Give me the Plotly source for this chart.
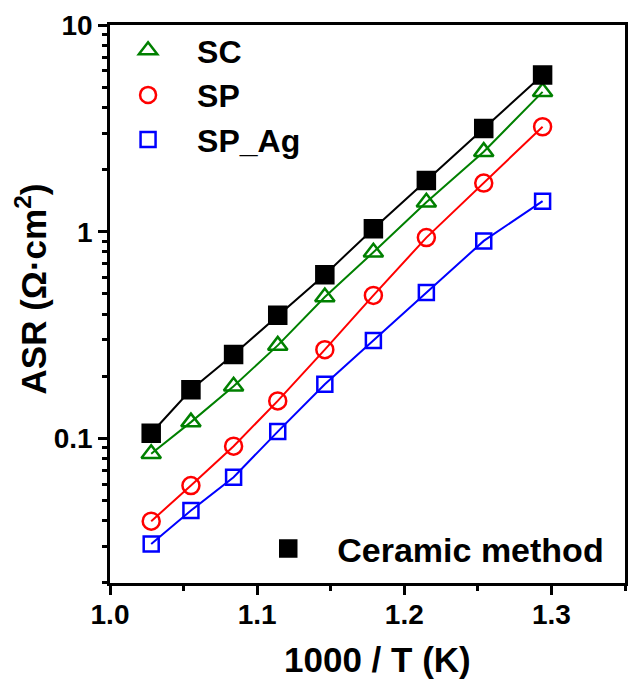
import plotly.graph_objects as go

# 1000/T (K) for the nine measurement temperatures
inv_t = [1.028, 1.055, 1.084, 1.114, 1.146, 1.179, 1.215, 1.254, 1.294]

# Area-specific resistance (Ohm*cm^2)
asr_ceramic = [0.106, 0.172, 0.255, 0.394, 0.62, 1.035, 1.77, 3.16, 5.73]
asr_sc = [0.0843, 0.12, 0.179, 0.282, 0.483, 0.796, 1.39, 2.44, 4.75]
asr_sp = [0.0398, 0.0592, 0.0918, 0.152, 0.269, 0.492, 0.937, 1.72, 3.22]
asr_sp_ag = [0.0309, 0.0448, 0.065, 0.108, 0.183, 0.298, 0.509, 0.903, 1.406]

FONT = "Liberation Sans"

fig = go.Figure()

series = [
    ("SC", asr_sc, "#008000", "triangle-up-open", 17, "legend"),
    ("SP", asr_sp, "#ff0000", "circle-open", 17, "legend"),
    ("SP_Ag", asr_sp_ag, "#0000ff", "square-open", 15, "legend"),
    ("Ceramic method", asr_ceramic, "#000000", "square", 17, "legend2"),
]

# connecting lines (not listed in the legends)
for name, vals, color, symbol, size, leg in series:
    fig.add_trace(go.Scatter(
        x=inv_t, y=vals, mode="lines", showlegend=False,
        line=dict(color=color, width=2), hoverinfo="skip",
    ))

# markers, which also provide the legend symbols
for name, vals, color, symbol, size, leg in series:
    fig.add_trace(go.Scatter(
        x=inv_t, y=vals, name=name, mode="markers",
        marker=dict(symbol=symbol, size=size, color=color,
                    line=dict(color=color, width=2.5)),
        legend=leg,
    ))

W, H = 630, 681
ML, MR, MT, MB = 110, 2, 25, 98
pw, ph = W - ML - MR, H - MT - MB

tickfont = dict(family=FONT, size=28, color="black", weight="bold")
titlefont = dict(family=FONT, size=35, color="black", weight="bold")

fig.update_layout(
    width=W, height=H,
    margin=dict(l=ML, r=MR, t=MT, b=MB),
    paper_bgcolor="white", plot_bgcolor="white",
    xaxis=dict(
        range=[1.0, 1.35], dtick=0.1, tick0=1.0, tickformat=".1f",
        ticks="outside", ticklen=9, tickwidth=2.5, tickcolor="black",
        minor=dict(ticks="outside", dtick=0.05, ticklen=5, tickwidth=2.5, tickcolor="black"),
        showline=True, linewidth=2.5, linecolor="black", mirror=True,
        showgrid=False, zeroline=False, tickfont=tickfont, ticklabelstandoff=-4,
    ),
    yaxis=dict(
        type="log", range=[-1.699, 1.0],
        tickvals=[0.1, 1, 10], ticktext=["0.1", "1", "10"],
        ticks="outside", ticklen=9, tickwidth=2.5, tickcolor="black",
        minor=dict(ticks="outside", dtick="D1", ticklen=5, tickwidth=2.5, tickcolor="black"),
        showline=True, linewidth=2.5, linecolor="black", mirror=True,
        showgrid=False, zeroline=False, tickfont=tickfont,
    ),
    legend=dict(
        x=(99 - ML) / pw, y=1 - (23 - MT) / ph, xanchor="left", yanchor="top",
        bgcolor="rgba(0,0,0,0)", itemwidth=88, tracegroupgap=0,
        font=dict(family=FONT, size=32, color="black", weight="bold"),
    ),
    legend2=dict(
        x=(240 - ML) / pw, y=1 - (520 - MT) / ph, xanchor="left", yanchor="top",
        bgcolor="rgba(0,0,0,0)", itemwidth=88,
        font=dict(family=FONT, size=34, color="black", weight="bold"),
    ),
    showlegend=True,
)

# axis titles
fig.add_annotation(
    text="1000 / T (K)", xref="paper", yref="paper",
    x=(379 - ML) / pw, y=1 - (659 - MT) / ph, xanchor="center", yanchor="middle",
    showarrow=False, font=titlefont,
)
fig.add_annotation(
    text="ASR (Ω·cm<sup>2</sup>)", xref="paper", yref="paper",
    x=(31 - ML) / pw, y=1 - (289 - MT) / ph, xanchor="center", yanchor="middle",
    textangle=-90, showarrow=False, font=titlefont,
)

fig.write_html("out.html")
